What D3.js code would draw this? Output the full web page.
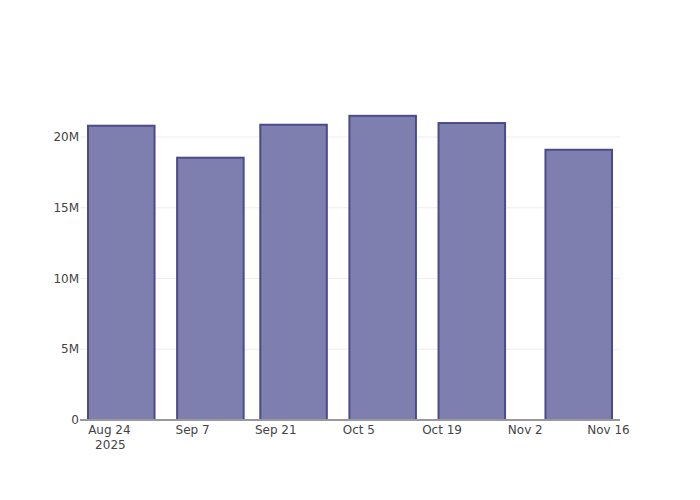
<!DOCTYPE html>
<html>
<head>
<meta charset="utf-8">
<script src="https://cdn.jsdelivr.net/npm/d3@7"></script>
<style>
  body { margin: 0; background: #fff; }
  text { font-family: "DejaVu Sans", sans-serif; font-size: 12px; fill: #444; }
</style>
</head>
<body>
<div id="chart"></div>
<script>
'use strict';

const dates = ['2025-08-26', '2025-09-10', '2025-09-24', '2025-10-09', '2025-10-24', '2025-11-11'];
const values = [20.8e6, 18.54e6, 20.87e6, 21.5e6, 20.99e6, 19.1e6];
const yTicks = [0, 5e6, 10e6, 15e6, 20e6];
const yTickLabels = ['0', '5M', '10M', '15M', '20M'];
const xTicks = ['2025-08-24', '2025-09-07', '2025-09-21', '2025-10-05', '2025-10-19', '2025-11-02', '2025-11-16'];

const width = 700, height = 500;
const margin = { top: 100, right: 80, bottom: 80, left: 80 };

const parse = d3.utcParse('%Y-%m-%d');
const bars = dates.map((d, i) => ({ date: parse(d), value: values[i] }));

// bar width = 80% of smallest gap between bars (like plotly)
const gaps = d3.pairs(bars).map(p => p[1].date - p[0].date);
const barW = d3.min(gaps) * 0.8;

const x = d3.scaleUtc()
    .domain([+bars[0].date - barW / 2, +bars[bars.length - 1].date + barW / 2])
    .range([margin.left + 8, width - margin.right - 8]);
x.domain([x.invert(margin.left), x.invert(width - margin.right)])
    .range([margin.left, width - margin.right]);

const y = d3.scaleLinear()
    .domain([0, d3.max(values) * 1.052])
    .range([height - margin.bottom, margin.top]);

const svg = d3.select('#chart')
    .append('svg')
    .attr('width', width)
    .attr('height', height);

// grid
svg.append('g')
    .selectAll('line')
    .data(yTicks.slice(1))
    .enter()
    .append('line')
    .attr('x1', margin.left)
    .attr('x2', width - margin.right)
    .attr('y1', d => y(d))
    .attr('y2', d => y(d))
    .attr('stroke', '#eee')
    .attr('stroke-width', 1);

// bars
svg.append('g')
    .selectAll('rect')
    .data(bars)
    .enter()
    .append('rect')
    .attr('x', d => x(+d.date - barW / 2))
    .attr('width', d => x(+d.date + barW / 2) - x(+d.date - barW / 2))
    .attr('y', d => y(d.value))
    .attr('height', d => y(0) - y(d.value))
    .attr('fill', '#7f7faf')
    .attr('stroke', '#4b4b8c')
    .attr('stroke-width', 2);

// x axis line
svg.append('line')
    .attr('x1', margin.left)
    .attr('x2', width - margin.right)
    .attr('y1', y(0))
    .attr('y2', y(0))
    .attr('stroke', '#999')
    .attr('stroke-width', 2);

// y labels
svg.append('g')
    .selectAll('text')
    .data(yTicks)
    .enter()
    .append('text')
    .attr('x', margin.left - 1)
    .attr('y', d => y(d))
    .attr('dy', '0.35em')
    .attr('text-anchor', 'end')
    .text((d, i) => yTickLabels[i]);

// x labels
const xl = svg.append('g')
    .selectAll('text')
    .data(xTicks.map(parse))
    .enter()
    .append('text')
    .attr('x', d => x(d))
    .attr('y', y(0) + 14)
    .attr('text-anchor', 'middle');

xl.append('tspan')
    .attr('x', d => x(d))
    .text(d3.utcFormat('%b %-d'));

xl.filter((d, i) => i === 0)
    .append('tspan')
    .attr('x', d => x(d) + 1)
    .attr('dy', 15)
    .text(d => d3.utcFormat('%Y')(d));
</script>
</body>
</html>
